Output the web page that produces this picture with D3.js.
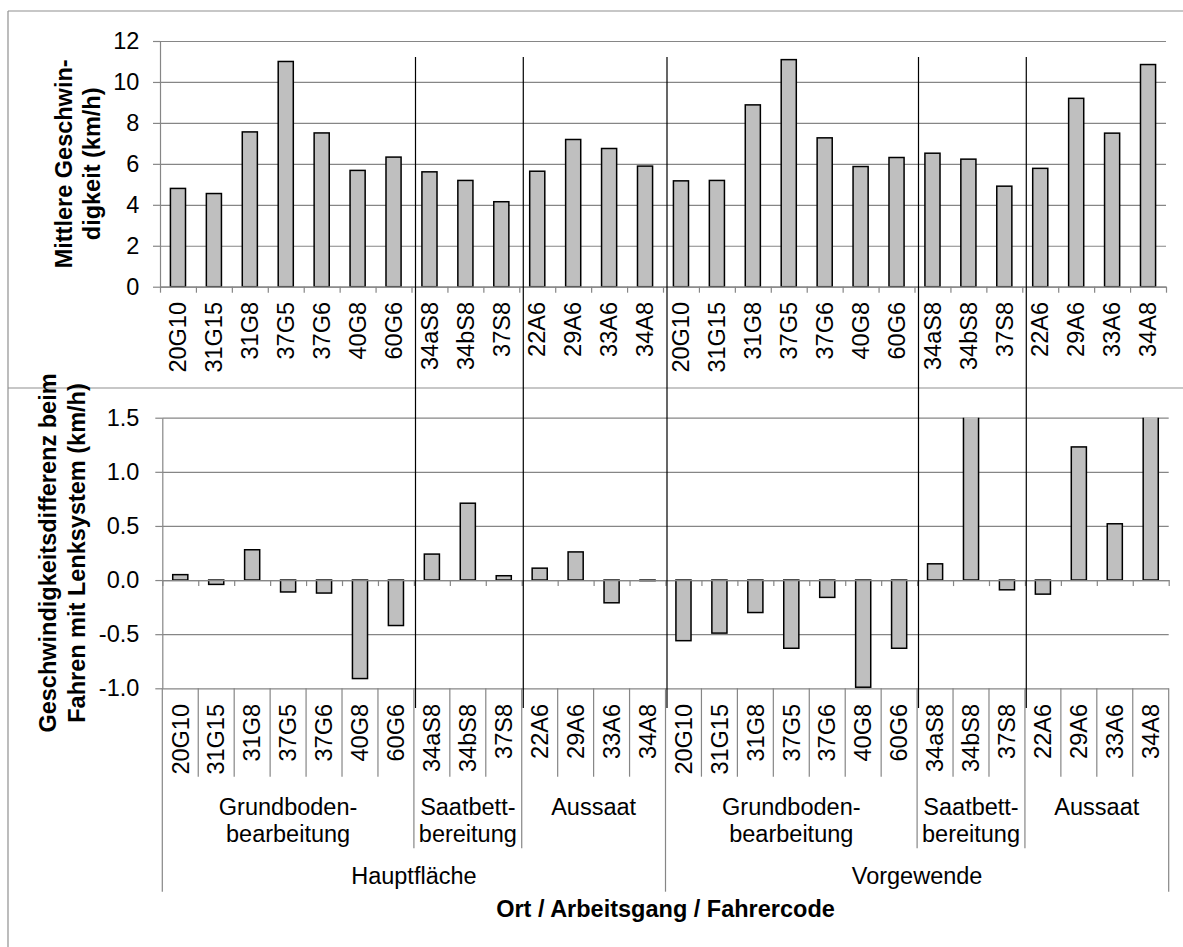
<!DOCTYPE html>
<html>
<head>
<meta charset="utf-8">
<script src="https://cdn.jsdelivr.net/npm/d3@7"></script>
<style>
  body { margin: 0; background: #fff; }
  text { font-family: 'Liberation Sans', Arial, sans-serif; font-size: 23.5px; fill: #000; }
  .title { font-weight: bold; }
</style>
</head>
<body>
<svg id="chart" width="1183" height="947"></svg>
<script>
const places = ['Hauptfläche', 'Vorgewende'];
const operations = [['Grundboden-', 'bearbeitung'], ['Saatbett-', 'bereitung'], ['Aussaat']];
const driverCodes = [
  ['20G10', '31G15', '31G8', '37G5', '37G6', '40G8', '60G6'],
  ['34aS8', '34bS8', '37S8'],
  ['22A6', '29A6', '33A6', '34A8']
];

// mittlere Geschwindigkeit (km/h)
const speedHaupt = [4.80, 4.55, 7.56, 11.0, 7.51, 5.68, 6.33, 5.61, 5.19, 4.15, 5.64, 7.19, 6.75, 5.89];
const speedVorg = [5.17, 5.19, 8.88, 11.09, 7.27, 5.87, 6.31, 6.52, 6.23, 4.91, 5.78, 9.20, 7.50, 10.85];

// Differenz mit Lenksystem (km/h); 34bS8 and 34A8 (Vorgewende) run off the axis top
const diffHaupt = [0.05, -0.04, 0.28, -0.11, -0.12, -0.91, -0.42, 0.24, 0.71, 0.04, 0.11, 0.26, -0.21, -0.005];
const diffVorg = [-0.56, -0.49, -0.30, -0.63, -0.16, -0.99, -0.63, 0.15, 1.62, -0.09, -0.13, 1.23, 0.52, 1.7];

const speedTicks = [0, 2, 4, 6, 8, 10, 12];
const diffTicks = [-1.0, -0.5, 0.0, 0.5, 1.0, 1.5];

const gridColor = '#868686';
const frameColor = '#909090';

// flatten place / operation / code into one category list
const categories = [];
places.forEach((place, p) => {
  driverCodes.forEach((codes, o) => {
    codes.forEach(code => categories.push({ place: p, op: o, code: code, id: categories.length }));
  });
});
const speeds = speedHaupt.concat(speedVorg);
const diffs = diffHaupt.concat(diffVorg);
const n = categories.length;

const svg = d3.select('#chart');

const upperBox = { x0: 160, x1: 1166, y0: 286.7, y1: 41 };
const lowerBox = { x0: 162.3, x1: 1168.7, y0: 688.3, y1: 417.7 };

const xTop = d3.scaleBand().domain(d3.range(n)).range([upperBox.x0, upperBox.x1]);
const xBot = d3.scaleBand().domain(d3.range(n)).range([lowerBox.x0, lowerBox.x1]);
const edgeTop = d3.scaleLinear().domain([0, n]).range([upperBox.x0, upperBox.x1]);
const edgeBot = d3.scaleLinear().domain([0, n]).range([lowerBox.x0, lowerBox.x1]);
const yTop = d3.scaleLinear().domain([0, 12]).range([upperBox.y0, upperBox.y1]);
const yBot = d3.scaleLinear().domain([-1, 1.5]).range([lowerBox.y0, lowerBox.y1]);
const barShare = 0.42;

// outer frame
svg.append('g')
  .attr('stroke', frameColor)
  .attr('stroke-width', 1.2)
  .selectAll('line')
  .data([[8, 11, 1183, 11], [8, 388, 1183, 388], [8, 11, 8, 947]])
  .enter()
  .append('line')
  .attr('x1', d => d[0]).attr('y1', d => d[1])
  .attr('x2', d => d[2]).attr('y2', d => d[3]);

function styleAxis (g) {
  g.attr('font-family', null).attr('font-size', null);
  g.select('.domain').attr('stroke', gridColor).attr('stroke-width', 1.2);
  g.selectAll('.tick line').attr('stroke', gridColor).attr('stroke-width', 1.2);
}

function drawPanel (x, edge, y, ticks, fmt, box, pad, values, clipId) {
  const width = box.x1 - box.x0;

  // gridlines
  svg.append('g')
    .attr('transform', `translate(${box.x0},0)`)
    .call(d3.axisLeft(y).tickValues(ticks).tickSize(-width).tickFormat(''))
    .call(styleAxis)
    .call(g => g.select('.domain').remove());

  // y axis with labels
  svg.append('g')
    .attr('transform', `translate(${box.x0},0)`)
    .call(d3.axisLeft(y).tickValues(ticks).tickSizeInner(7).tickSizeOuter(0).tickPadding(pad).tickFormat(fmt))
    .call(styleAxis);

  svg.append('clipPath')
    .attr('id', clipId)
    .append('rect')
    .attr('x', box.x0 - 2).attr('y', box.y1)
    .attr('width', width + 4).attr('height', box.y0 - box.y1);

  const bw = x.bandwidth() * barShare;
  svg.append('g')
    .attr('clip-path', `url(#${clipId})`)
    .selectAll('rect')
    .data(categories)
    .enter()
    .append('rect')
    .attr('x', d => x(d.id) + (x.bandwidth() - bw) / 2)
    .attr('width', bw)
    .attr('y', d => y(Math.max(0, values[d.id])))
    .attr('height', d => Math.abs(y(values[d.id]) - y(0)))
    .attr('fill', '#bfbfbf')
    .attr('stroke', '#000')
    .attr('stroke-width', 1.5);

  // category axis on the zero line, ticks between the bars
  svg.append('g')
    .attr('transform', `translate(0,${y(0)})`)
    .call(d3.axisBottom(edge).tickValues(d3.range(n + 1)).tickSizeInner(6).tickSizeOuter(0).tickFormat(''))
    .call(styleAxis);
}

drawPanel(xTop, edgeTop, yTop, speedTicks, d3.format('d'), upperBox, 13.7, speeds, 'clipTop');
drawPanel(xBot, edgeBot, yBot, diffTicks, d => d.toFixed(1), lowerBox, 16, diffs, 'clipBot');

// code labels under the upper chart
svg.append('g')
  .selectAll('text')
  .data(categories)
  .enter()
  .append('text')
  .attr('transform', d => `translate(${xTop(d.id) + xTop.bandwidth() / 2},302) rotate(-90)`)
  .attr('text-anchor', 'end')
  .attr('dy', '0.35em')
  .text(d => d.code);

// code labels under the lower chart
svg.append('g')
  .selectAll('text')
  .data(categories)
  .enter()
  .append('text')
  .attr('transform', d => `translate(${xBot(d.id) + xBot.bandwidth() / 2},704) rotate(-90)`)
  .attr('text-anchor', 'end')
  .attr('dy', '0.35em')
  .text(d => d.code);

// multi level dividers below the lower chart
const groupEdges = [7, 10];
svg.append('g')
  .attr('stroke', gridColor)
  .attr('stroke-width', 1.2)
  .selectAll('line')
  .data(d3.range(n + 1))
  .enter()
  .append('line')
  .attr('x1', d => edgeBot(d))
  .attr('x2', d => edgeBot(d))
  .attr('y1', lowerBox.y0)
  .attr('y2', d => {
    if (d % 14 === 0) return 891.7;
    if (groupEdges.includes(d % 14)) return 848.3;
    return 776.7;
  });

// operation labels
const opGroups = [];
places.forEach((place, p) => {
  let start = p * 14;
  driverCodes.forEach((codes, o) => {
    opGroups.push({ lines: operations[o], from: start, to: start + codes.length });
    start += codes.length;
  });
});

svg.append('g')
  .selectAll('text')
  .data(opGroups)
  .enter()
  .append('text')
  .attr('text-anchor', 'middle')
  .attr('y', 815)
  .each(function (d) {
    const cx = (edgeBot(d.from) + edgeBot(d.to)) / 2;
    d3.select(this).selectAll('tspan')
      .data(d.lines)
      .enter()
      .append('tspan')
      .attr('x', cx)
      .attr('dy', (t, i) => i ? 26.5 : 0)
      .text(t => t);
  });

// place labels
svg.append('g')
  .selectAll('text')
  .data(places)
  .enter()
  .append('text')
  .attr('text-anchor', 'middle')
  .attr('x', (d, i) => (edgeBot(i * 14) + edgeBot(i * 14 + 14)) / 2)
  .attr('y', 884)
  .text(d => d);

svg.append('text')
  .attr('class', 'title')
  .attr('text-anchor', 'middle')
  .attr('x', (lowerBox.x0 + lowerBox.x1) / 2)
  .attr('y', 917)
  .text('Ort / Arbeitsgang / Fahrercode');

// y axis titles
function yTitle (x, y, lines, gap) {
  svg.append('text')
    .attr('class', 'title')
    .attr('text-anchor', 'middle')
    .attr('transform', `translate(${x},${y}) rotate(-90)`)
    .selectAll('tspan')
    .data(lines)
    .enter()
    .append('tspan')
    .attr('x', 0)
    .attr('y', (d, i) => i * gap)
    .text(d => d);
}

yTitle(72, (upperBox.y0 + upperBox.y1) / 2, ['Mittlere Geschwin-', 'digkeit (km/h)'], 28);
yTitle(56, (lowerBox.y0 + lowerBox.y1) / 2, ['Geschwindigkeitsdifferenz beim', 'Fahren mit Lenksystem (km/h)'], 29);

// black separators between operations, drawn over both charts
const separators = [7, 10, 14, 21, 24];
svg.append('g')
  .attr('stroke', '#000')
  .attr('stroke-width', 1.2)
  .selectAll('line')
  .data(separators)
  .enter()
  .append('line')
  .attr('x1', d => edgeTop(d) + 4)
  .attr('x2', d => edgeTop(d) + 4)
  .attr('y1', 57)
  .attr('y2', 708);
</script>
</body>
</html>
